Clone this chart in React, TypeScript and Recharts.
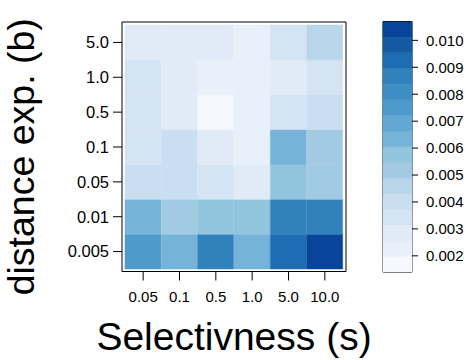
import React from 'react';
import { BarChart, Bar, Cell, XAxis, YAxis, ReferenceArea } from 'recharts';

// Selectivness (s) columns and distance exponent (b) rows, bottom to top
const COLS = ['0.05', '0.1', '0.5', '1.0', '5.0', '10.0'];
const ROWS = ['0.005', '0.01', '0.05', '0.1', '0.5', '1.0', '5.0'];

// cell values per row, one entry per column
const b0005 = [0.0075, 0.0064, 0.0087, 0.0064, 0.0093, 0.0104];
const b001 = [0.0064, 0.0052, 0.0058, 0.0058, 0.0087, 0.0087];
const b005 = [0.004, 0.004, 0.0034, 0.0029, 0.0058, 0.0052];
const b01 = [0.0034, 0.004, 0.0029, 0.0023, 0.0064, 0.0052];
const b05 = [0.0034, 0.0029, 0.0017, 0.0023, 0.0034, 0.004];
const b10 = [0.0034, 0.0029, 0.0023, 0.0023, 0.0029, 0.0034];
const b50 = [0.0029, 0.0029, 0.0029, 0.0023, 0.0034, 0.0046];
const GRID = [b0005, b001, b005, b01, b05, b10, b50];

// colour key
const LEVEL_MIN = 0.0014;
const LEVEL_MAX = 0.0107;
const KEY_TICKS = [0.002, 0.003, 0.004, 0.005, 0.006, 0.007, 0.008, 0.009, 0.01];

const BLUES = [
  '#f5f9ff', '#e8f0fa', '#e1ebf7', '#d4e4f3', '#cadef1', '#b9d5ea', '#a2cbe3', '#93c4de',
  '#76b3d8', '#63a8d3', '#4f9acc', '#3e8ec4', '#3181bd', '#1e6db2', '#145aa3', '#08459a',
];
const STEP = (LEVEL_MAX - LEVEL_MIN) / BLUES.length;

const colorFor = (v: number) => {
  const k = Math.floor((v - LEVEL_MIN) / STEP);
  return BLUES[Math.max(0, Math.min(BLUES.length - 1, k))];
};

// one record per column, every row stacked as one unit tall
const tableData = COLS.map((s, i) => {
  const rec: Record<string, number | string> = { s };
  GRID.forEach((row, r) => {
    rec['v' + r] = row[i];
    rec['h' + r] = 1;
  });
  return rec;
});

// colour key as a single stacked column: an invisible base, then one slab per level
const keyData = [
  BLUES.reduce<Record<string, number | string>>(
    (rec, _c, k) => {
      rec['k' + k] = STEP;
      return rec;
    },
    { name: 'key', base: LEVEL_MIN }
  ),
];

const FONT = "'Liberation Sans', Arial, Helvetica, sans-serif";
const xTickStyle = { fontSize: 15, fill: '#000', fontFamily: FONT };
const yTickStyle = { fontSize: 16.5, fill: '#000', fontFamily: FONT };
const Y_DOMAIN: [number, number] = [-0.072, 7.086];
const ROW_TICKS = ROWS.map((_, r) => r + 0.5);

const XTitle = (props: any) => {
  const vb = props.viewBox;
  return (
    <text x={vb.x + vb.width / 2} y={vb.y + 78} textAnchor="middle" fontSize={39} fontFamily={FONT} fill="#000">
      Selectivness (s)
    </text>
  );
};

const YTitle = (props: any) => {
  const vb = props.viewBox;
  const x = vb.x + 34;
  const y = vb.y + vb.height / 2 + 10;
  return (
    <text x={x} y={y} transform={`rotate(-90, ${x}, ${y})`} textAnchor="middle" fontSize={37.5} fontFamily={FONT} fill="#000">
      distance exp. (b)
    </text>
  );
};

export default function App() {
  return (
    <div style={{ position: 'absolute', left: 0, top: 0, width: 467, height: 360, background: '#fff' }}>
      <div style={{ position: 'absolute', left: 0, top: 0 }}>
        <BarChart
          width={467}
          height={360}
          data={tableData}
          margin={{ top: 12, right: 111, bottom: 3, left: 0 }}
          barCategoryGap={0}
          barGap={0}
        >
          <XAxis
            dataKey="s"
            type="category"
            height={85.5}
            padding={{ left: 3, right: 3 }}
            tick={xTickStyle}
            tickSize={9}
            tickMargin={11}
            tickLine={{ stroke: '#000' }}
            axisLine={{ stroke: '#000' }}
            label={<XTitle />}
          />
          <XAxis
            xAxisId="top"
            orientation="top"
            dataKey="s"
            type="category"
            height={10}
            padding={{ left: 3, right: 3 }}
            tick={false}
            tickSize={9}
            tickLine={{ stroke: '#000' }}
            axisLine={{ stroke: '#000' }}
          />
          <YAxis
            type="number"
            domain={Y_DOMAIN}
            ticks={ROW_TICKS}
            interval={0}
            width={122}
            tick={yTickStyle}
            tickFormatter={(v: number) => ROWS[Math.round(v - 0.5)]}
            tickSize={9}
            tickMargin={4}
            tickLine={{ stroke: '#000' }}
            axisLine={{ stroke: '#000' }}
            label={<YTitle />}
          />
          <YAxis
            yAxisId="right"
            orientation="right"
            type="number"
            domain={Y_DOMAIN}
            ticks={ROW_TICKS}
            interval={0}
            width={10}
            tick={false}
            tickSize={9}
            tickLine={{ stroke: '#000' }}
            axisLine={{ stroke: '#000' }}
          />
          {ROWS.map((rowName, r) => (
            <Bar key={rowName} dataKey={'h' + r} stackId="cells" isAnimationActive={false}>
              {tableData.map((rec, i) => {
                const c = colorFor(rec['v' + r] as number);
                return <Cell key={i} fill={c} stroke={c} strokeWidth={0.5} />;
              })}
            </Bar>
          ))}
        </BarChart>
      </div>
      <div style={{ position: 'absolute', left: 370, top: 0 }}>
        <BarChart
          width={97}
          height={360}
          data={keyData}
          margin={{ top: 21.5, right: 0, bottom: 88, left: 13 }}
          barCategoryGap={0}
          barGap={0}
        >
          <XAxis dataKey="name" type="category" hide />
          <YAxis
            orientation="right"
            type="number"
            domain={[LEVEL_MIN, LEVEL_MAX]}
            allowDataOverflow
            ticks={KEY_TICKS}
            interval={0}
            width={55}
            tick={xTickStyle}
            tickFormatter={(v: number) => v.toFixed(3)}
            tickSize={6}
            tickMargin={8}
            tickLine={{ stroke: '#000' }}
            axisLine={false}
          />
          <Bar dataKey="base" stackId="key" fill="none" isAnimationActive={false} />
          {BLUES.map((c, k) => (
            <Bar
              key={c}
              dataKey={'k' + k}
              stackId="key"
              fill={c}
              stroke={c}
              strokeWidth={0.5}
              isAnimationActive={false}
            />
          ))}
          <ReferenceArea y1={LEVEL_MIN} y2={LEVEL_MAX} fill="none" stroke="#000" strokeWidth={1} />
        </BarChart>
      </div>
    </div>
  );
}
